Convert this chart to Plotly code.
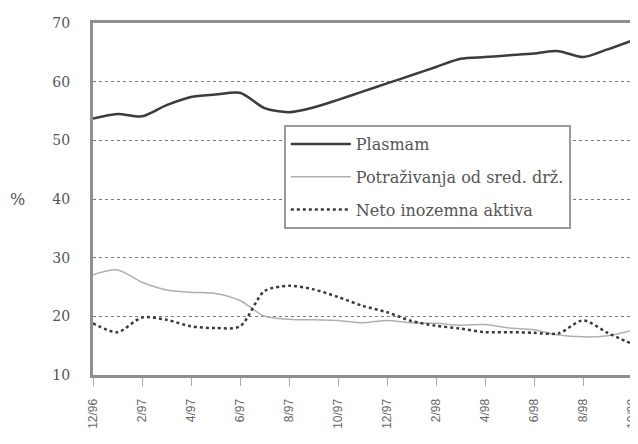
import plotly.graph_objects as go

months = ["12/96", "1/97", "2/97", "3/97", "4/97", "5/97", "6/97", "7/97", "8/97", "9/97",
          "10/97", "11/97", "12/97", "1/98", "2/98", "3/98", "4/98", "5/98", "6/98", "7/98",
          "8/98", "9/98", "10/98"]
plasmam = [53.7, 54.5, 54.1, 56.0, 57.4, 57.8, 58.1, 55.5, 54.8, 55.6,
           56.9, 58.3, 59.7, 61.1, 62.5, 63.9, 64.2, 64.5, 64.8, 65.2,
           64.2, 65.5, 67.0]
potrazivanja = [27.1, 27.9, 25.8, 24.5, 24.1, 23.9, 22.7, 20.0, 19.5, 19.4,
                19.3, 18.9, 19.3, 18.9, 18.8, 18.5, 18.6, 18.0, 17.7, 16.8,
                16.5, 16.7, 17.6]
neto = [18.8, 17.3, 19.8, 19.4, 18.3, 18.0, 18.3, 24.3, 25.2, 24.6,
        23.3, 21.8, 20.7, 19.2, 18.4, 17.9, 17.3, 17.3, 17.2, 17.1,
        19.3, 17.2, 15.3]
tick_labels = ["12/96", "2/97", "4/97", "6/97", "8/97", "10/97", "12/97",
               "2/98", "4/98", "6/98", "8/98", "10/98"]
y_ticks = [10, 20, 30, 40, 50, 60, 70]

x = list(range(len(months)))
serif = "DejaVu Serif"

fig = go.Figure()
fig.add_trace(go.Scatter(x=x, y=plasmam, name="Plasmam", mode="lines", legendgroup="a",
                         line=dict(color="#3c3c3c", width=2.5, shape="spline", smoothing=0.8)))
fig.add_trace(go.Scatter(x=x, y=potrazivanja, name="Potraživanja od sred. drž.", mode="lines",
                         legendgroup="b",
                         line=dict(color="#b0b0b0", width=1.5, shape="spline", smoothing=0.8)))
fig.add_trace(go.Scatter(x=x, y=neto, name="Neto inozemna aktiva", mode="lines", legendgroup="c",
                         line=dict(color="#3a3a3a", width=2.5, dash="dot", shape="spline", smoothing=0.8)))

fig.update_layout(
    width=630, height=436,
    margin=dict(l=85, r=6, t=15, b=69, autoexpand=False),
    paper_bgcolor="white", plot_bgcolor="white",
    font=dict(family=serif, color="#555555", size=14),
    showlegend=True,
    legend=dict(x=0.354, y=0.71, xanchor="left", yanchor="top",
                bordercolor="#9a9a9a", borderwidth=2, bgcolor="white",
                font=dict(family=serif, size=16, color="#555555"),
                tracegroupgap=9, itemwidth=60),
    annotations=[dict(text="%", xref="paper", yref="paper", x=-0.14, y=0.5,
                      xanchor="center", showarrow=False,
                      font=dict(family=serif, size=16, color="#555555"))],
)
fig.update_xaxes(range=[0, 22], tickvals=list(range(0, 23, 2)), ticktext=tick_labels,
                 tickangle=-90, automargin=False, ticklabeloverflow="allow",
                 tickfont=dict(family="Liberation Sans", size=12, color="#666666"),
                 ticks="outside", ticklen=8, tickcolor="#aaaaaa", ticklabelstandoff=8,
                 showgrid=False, zeroline=False,
                 showline=True, linecolor="#8f8f8f", linewidth=3, mirror=True)
fig.update_yaxes(range=[10, 70], tickvals=y_ticks, ticks="", ticklabelstandoff=17,
                 automargin=False,
                 showgrid=True, gridcolor="#7a7a7a", gridwidth=1, griddash="dot",
                 zeroline=False,
                 showline=True, linecolor="#8f8f8f", linewidth=3, mirror=True)

fig.write_html("out.html")
